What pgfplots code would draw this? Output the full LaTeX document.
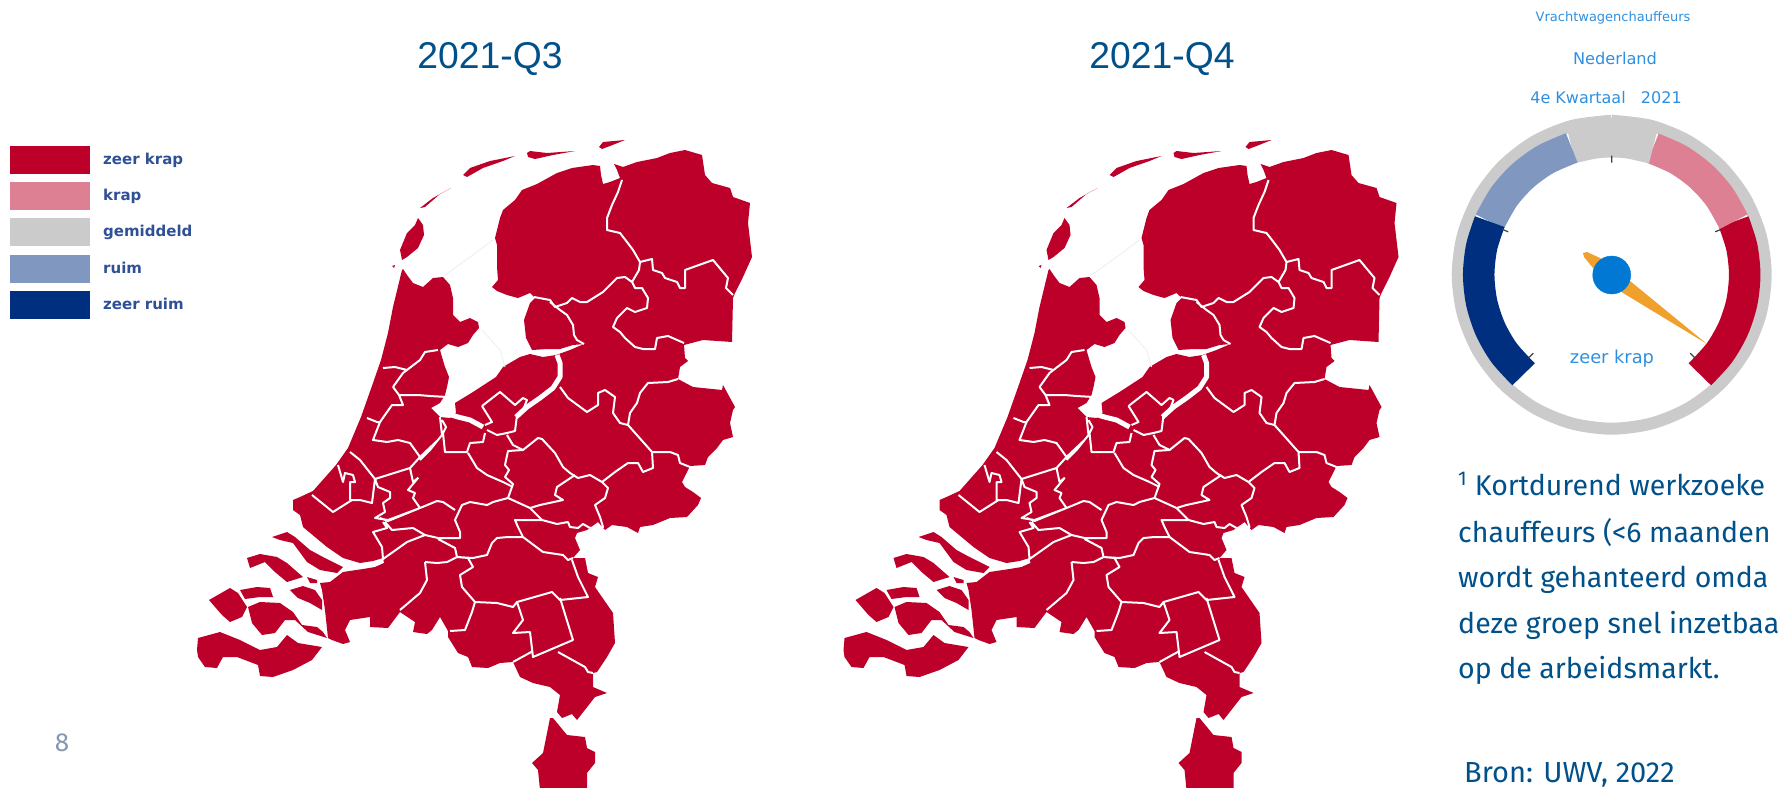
\documentclass[border=0pt]{standalone}
\usepackage{pgfplots}
\pgfplotsset{compat=1.18}
\usepackage{pgfplotstable}
\usepackage{fontspec}
\setmainfont{Liberation Sans}
\newfontfamily\dejavu{DejaVu Sans}
\newfontfamily\fira{Fira Sans}
\definecolor{zeerkrap}{HTML}{BC0029}
\definecolor{krap}{HTML}{DE8094}
\definecolor{gemiddeld}{HTML}{CBCBCB}
\definecolor{ruim}{HTML}{8097BF}
\definecolor{zeerruim}{HTML}{002F7F}
\definecolor{titleblue}{HTML}{00508A}
\definecolor{gaugetext}{HTML}{2E8FE0}
\definecolor{legtext}{HTML}{2F5096}
\definecolor{pagenum}{HTML}{8496B0}
\definecolor{hub}{HTML}{0078D4}
\definecolor{needle}{HTML}{F0A02D}
% land: mainland and islands, nan rows split the pieces
\pgfplotstableread{
x y
403 269
407 275
413 283
423 287
433 278
443 277
450 285
453 298
453 315
460 322
470 318
478 322
479 328
473 335
468 343
458 347
448 344
440 350
442 357
445 367
449 377
447 387
445 395
440 403
431 408
440 417
450 418
456 413
455 403
473 392
496 377
503 367
520 357
530 354
543 357
556 355
570 350
584 344
573 345
560 349
547 349
532 350
526 338
524 320
530 303
535 298
530 293
518 298
507 295
497 291
492 287
498 280
497 267
497 253
497 245
495 238
500 218
503 210
515 200
522 190
537 184
557 173
572 168
593 165
600 166
601 175
603 184
610 182
620 178
617 170
614 164
623 167
637 162
657 158
670 153
685 150
702 155
705 175
712 183
730 188
733 197
750 203
748 223
752 257
743 277
735 293
733 298
732 342
703 340
684 345
685 358
688 361
680 367
678 379
693 387
722 390
723 385
735 407
733 410
730 423
733 437
723 440
717 448
708 457
705 465
690 466
682 482
685 487
693 492
701 498
698 505
687 517
670 518
653 525
640 527
638 533
627 527
612 525
605 530
598 522
587 530
577 533
575 538
580 550
573 558
585 558
588 573
598 577
595 587
613 613
615 643
607 657
597 672
593 673
593 687
607 693
595 697
577 720
572 714
562 718
557 712
560 695
550 687
533 683
520 677
513 662
500 663
488 668
472 667
468 657
458 653
448 637
448 631
440 617
432 630
427 634
413 632
415 622
400 612
388 628
370 627
370 617
350 620
345 630
350 642
343 644
332 640
328 638
325 610
322 590
320 583
330 582
343 572
363 569
375 567
384 563
383 558
373 561
360 563
343 558
327 547
303 527
300 515
293 510
293 500
300 497
313 491
336 465
348 448
361 417
373 383
381 360
388 333
393 307
402 270
nan nan
272 537
287 532
295 537
310 550
323 557
343 567
337 573
320 570
307 562
293 543
280 540
nan nan
247 558
260 554
277 557
287 563
303 577
287 582
275 572
265 562
250 568
nan nan
307 577
317 580
317 583
310 583
nan nan
290 590
303 586
315 590
322 600
322 610
310 603
298 598
nan nan
240 590
257 587
270 588
273 597
260 597
245 599
nan nan
209 600
230 588
238 593
247 607
242 617
230 622
222 615
nan nan
248 607
260 602
280 603
293 612
302 625
317 627
323 632
327 638
308 632
295 620
285 620
275 633
262 635
252 623
nan nan
198 638
220 632
240 640
260 650
277 647
287 635
298 643
322 647
312 660
293 670
273 677
260 676
258 665
237 657
223 657
217 668
205 667
198 657
197 650
nan nan
550 718
553 718
567 735
585 737
587 748
595 752
595 763
587 773
587 790
540 790
538 770
532 763
543 753
547 733
nan nan
418 218
423 225
424 235
418 248
407 257
402 260
400 250
407 233
415 225
nan nan
392 266
395 265
394 268
nan nan
420 208
433 198
451 188
440 194
425 207
nan nan
463 175
470 168
490 161
515 156
503 161
483 168
467 177
nan nan
527 153
530 151
547 153
575 151
553 155
535 159
528 157
nan nan
599 147
603 142
625 140
610 146
602 149
}\landtable
% thin white region borders
\pgfplotstableread{
x y
622 180
618 192
612 205
607 218
607 230
620 233
627 242
633 250
640 262
639 270
632 282
nan nan
640 262
652 259
653 270
662 273
665 278
677 282
680 288
685 288
685 270
713 260
728 278
726 288
733 295
nan nan
534 297
550 300
555 307
567 303
572 298
580 302
587 302
603 292
617 278
625 277
632 282
635 288
642 288
648 298
647 308
635 312
627 308
617 318
613 327
620 332
625 338
635 347
643 349
655 349
657 338
668 336
684 343
nan nan
550 302
560 310
567 315
573 325
574 335
577 340
584 344
nan nan
560 387
568 398
587 412
598 405
598 393
605 390
615 397
613 413
620 423
628 425
630 413
637 403
640 393
648 383
668 382
678 379
nan nan
628 425
652 452
670 452
678 455
680 463
690 467
nan nan
652 452
653 468
643 472
638 463
628 463
615 472
602 482
590 475
578 478
570 473
563 467
555 453
542 439
538 438
523 450
513 445
507 435
nan nan
602 482
608 488
605 498
595 505
600 517
603 527
590 528
583 524
578 528
570 527
568 522
557 524
542 520
515 520
518 527
523 537
543 552
563 555
568 560
573 558
nan nan
575 475
557 487
555 495
563 500
540 505
530 508
508 498
nan nan
530 508
542 520
nan nan
523 450
508 451
505 465
509 470
505 477
513 484
508 498
493 502
487 505
470 502
462 505
455 520
460 532
460 538
438 538
425 535
nan nan
523 537
508 537
497 538
492 543
487 555
473 558
457 557
455 548
438 539
nan nan
455 510
443 502
437 501
420 508
388 521
380 518
nan nan
350 452
360 460
375 479
372 503
360 500
352 500
333 512
312 495
nan nan
350 500
350 482
355 482
353 475
345 473
343 482
338 465
nan nan
375 479
410 468
420 457
438 440
nan nan
410 468
413 482
418 478
408 490
415 493
413 498
420 508
nan nan
375 479
378 487
390 492
390 498
383 503
385 512
375 518
388 520
420 508
nan nan
385 522
392 530
413 528
425 535
nan nan
383 522
387 528
373 532
382 547
383 559
400 547
407 542
425 535
nan nan
383 368
395 367
407 370
nan nan
393 387
403 373
420 360
425 352
438 350
nan nan
393 387
399 395
418 395
430 396
447 397
nan nan
399 395
403 405
392 405
380 422
373 440
387 442
398 440
410 443
420 457
nan nan
367 418
377 422
380 422
nan nan
440 417
442 435
430 450
420 460
nan nan
442 420
446 427
443 433
445 452
467 452
470 443
483 442
485 433
nan nan
468 453
477 468
487 475
503 482
513 487
nan nan
482 406
500 392
515 405
523 398
527 400
523 410
517 415
nan nan
482 406
492 422
485 425
nan nan
425 562
427 580
420 593
400 610
nan nan
425 562
437 563
447 562
457 557
468 558
473 567
460 575
462 587
475 602
472 612
465 630
450 631
nan nan
475 602
497 603
513 607
517 602
552 592
560 600
588 597
578 577
572 560
nan nan
517 602
523 620
513 633
530 632
533 657
573 640
560 598
nan nan
533 651
513 662
nan nan
558 652
585 667
588 672
593 673
nan nan
487 430
497 435
507 433
515 431
517 415
}\bordertable
% wide water bands (Randmeren, Hollands Diep)
\pgfplotstableread{
x y
448 414
458 417
470 420
483 427
nan nan
516 417
527 407
540 398
553 388
560 377
560 363
557 355
}\watertable
% faint lines over the IJsselmeer
\pgfplotstableread{
x y
445 275
470 257
493 240
nan nan
482 330
500 350
505 367
}\faintable
% gauge arcs as angle from straight up and radius
\pgfplotstableread{
t r
0 154
15 154
30 154
45 154
60 154
75 154
90 154
105 154
120 154
135 154
150 154
165 154
180 154
195 154
210 154
225 154
240 154
255 154
270 154
285 154
300 154
315 154
330 154
345 154
360 154
}\ringtable
\pgfplotstableread{
t r
66.5 133
78 133
90 133
102 133
114 133
126 133
138.5 133
}\redarc
\pgfplotstableread{
t r
18 133
30 133
42 133
54 133
66.5 133
}\pinkarc
\pgfplotstableread{
t r
-17.5 133
-6 133
6 133
18 133
}\greyarc
\pgfplotstableread{
t r
-66.5 133
-54 133
-42 133
-30 133
-17.5 133
}\lightarc
\pgfplotstableread{
t r
-138.5 133
-126 133
-114 133
-102 133
-90 133
-78 133
-66.5 133
}\navyarc
\pgfplotstableread{
x y
1611.7 155.7
1611.7 162.7
nan nan
1721.6 229.2
1715.2 231.8
nan nan
1501.8 229.2
1508.2 231.8
nan nan
1695.1 358.1
1690.2 353.2
nan nan
1528.3 358.1
1533.2 353.2
}\gaugeticks
\pgfplotsset{
  canvas/.style={at={(0,0)}, anchor=south west, scale only axis, width=1779pt, height=787pt,
    ymin=0, ymax=787, y dir=reverse, hide axis, clip=false, unbounded coords=jump},
  /pgfplots/table/polar rows/.style={/pgfplots/table/x expr=1611.7+\thisrow{r}*sin(\thisrow{t}), /pgfplots/table/y expr=274.7-\thisrow{r}*cos(\thisrow{t})},
  arc/.style={no markers, line width=31.5pt, line cap=butt, smooth}
}
\tikzset{
  legtxt/.style={anchor=base west, inner sep=0pt, text=legtext, font=\dejavu\bfseries\fontsize{15}{15}\selectfont},
  note/.style={anchor=base west, inner sep=0pt, text=titleblue, font=\fira\fontsize{28.5}{28.5}\selectfont}
}
\newcommand{\drawmap}{%
  \addplot[no markers, draw=none, fill=zeerkrap] table[x=x, y=y] {\landtable};
  \addplot[no markers, line width=2pt, white, line join=round] table[x=x, y=y] {\bordertable};
  \addplot[no markers, line width=5pt, white, line join=round] table[x=x, y=y] {\watertable};
  \addplot[no markers, line width=1pt, black!6] table[x=x, y=y] {\faintable};
}
\begin{document}
\begin{tikzpicture}
\path[use as bounding box, clip] (0,0) rectangle (1779pt,787pt);
\begin{axis}[canvas, xmin=0, xmax=1779]
\drawmap
% legend boxes
\addplot[draw=none, fill=zeerkrap] coordinates {(10,146) (90,146) (90,174) (10,174)};
\addplot[draw=none, fill=krap] coordinates {(10,182) (90,182) (90,210) (10,210)};
\addplot[draw=none, fill=gemiddeld] coordinates {(10,218) (90,218) (90,246) (10,246)};
\addplot[draw=none, fill=ruim] coordinates {(10,255) (90,255) (90,283) (10,283)};
\addplot[draw=none, fill=zeerruim] coordinates {(10,291) (90,291) (90,319) (10,319)};
% gauge
\addplot[no markers, line width=12pt, gemiddeld, smooth] table[polar rows] {\ringtable};
\addplot[arc, zeerkrap] table[polar rows] {\redarc};
\addplot[arc, krap] table[polar rows] {\pinkarc};
\addplot[arc, gemiddeld] table[polar rows] {\greyarc};
\addplot[arc, ruim] table[polar rows] {\lightarc};
\addplot[arc, zeerruim] table[polar rows] {\navyarc};
\addplot[no markers, line width=1.2pt, black!75] table[x=x, y=y] {\gaugeticks};
\addplot[draw=none, fill=needle] coordinates {(1707,344) (1630,281) (1600,258) (1587,252) (1583,253) (1584,257) (1593,268) (1623,293)};
\addplot[only marks, mark=*, mark size=19pt, color=hub, mark options={draw=hub, fill=hub}] coordinates {(1611.7,275)};
% text
\node[text=titleblue, font=\fontsize{37.3}{37.3}\selectfont] at (axis cs:490,59) {2021-Q3};
\node[text=titleblue, font=\fontsize{37.3}{37.3}\selectfont] at (axis cs:1162,59) {2021-Q4};
\node[legtxt] at (axis cs:103,164.5) {zeer krap};
\node[legtxt] at (axis cs:103,200.5) {krap};
\node[legtxt] at (axis cs:103,236.5) {gemiddeld};
\node[legtxt] at (axis cs:103,273.5) {ruim};
\node[legtxt] at (axis cs:103,309.5) {zeer ruim};
\node[text=gaugetext, font=\dejavu\fontsize{13}{13}\selectfont] at (axis cs:1613,18) {Vrachtwagenchauffeurs};
\node[text=gaugetext, font=\dejavu\fontsize{16.2}{16.2}\selectfont] at (axis cs:1615,58) {Nederland};
\node[text=gaugetext, font=\dejavu\fontsize{16}{16}\selectfont] at (axis cs:1606,98) {4e Kwartaal\ \ \ 2021};
\node[text=gaugetext, font=\dejavu\fontsize{17.8}{17.8}\selectfont] at (axis cs:1612,359) {zeer krap};
\node[note] at (axis cs:1458,495) {\textsuperscript{1} Kortdurend werkzoeke};
\node[note] at (axis cs:1458,542) {chauffeurs (<6 maanden};
\node[note] at (axis cs:1458,587) {wordt gehanteerd omda};
\node[note] at (axis cs:1458,633) {deze groep snel inzetbaa};
\node[note] at (axis cs:1458,678) {op de arbeidsmarkt.};
\node[note, font=\fira\fontsize{29}{29}\selectfont] at (axis cs:1464,782) {Bron: UWV, 2022};
\node[text=pagenum, font=\fira\fontsize{26}{26}\selectfont] at (axis cs:62,743) {8};
\end{axis}
\begin{axis}[canvas, xmin=-646.5, xmax=1132.5]
\drawmap
\end{axis}
\end{tikzpicture}
\end{document}
